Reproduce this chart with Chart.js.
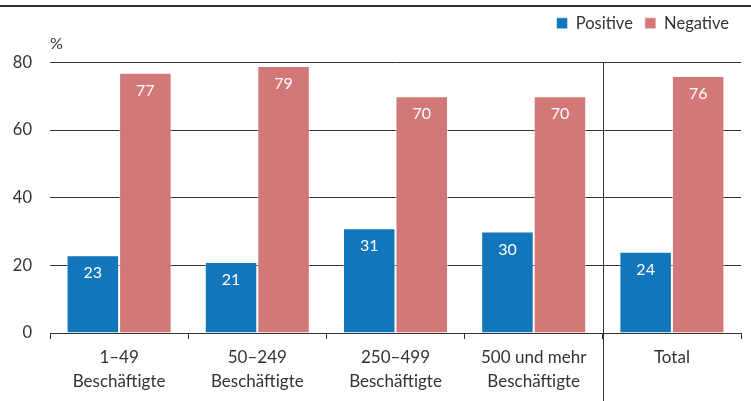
<!DOCTYPE html>
<html>
<head>
    <title>Positive / Negative nach Betriebsgrösse</title>
    <script src="https://cdn.jsdelivr.net/npm/chart.js@4.4.1/dist/chart.umd.min.js"></script>
</head>

<style>
    body {
        margin: 0;
        background: #ffffff;
    }

    .chart-container {
        width: 751px;
        height: 401px;
        position: relative;
    }
</style>

<body>
    <div class="chart-container"><canvas id="myChart"></canvas></div>

    <script>

    const categories = [['1–49', 'Beschäftigte'], ['50–249', 'Beschäftigte'], ['250–499', 'Beschäftigte'], ['500 und mehr', 'Beschäftigte'], 'Total'];
    const positive = [23, 21, 31, 30, 24];
    const negative = [77, 79, 70, 70, 76];
    const yTicks = [0, 20, 40, 60, 80];

    const dark = '#333333';
    const fontName = 'Lato';

// ligne du haut, "%" et séparateur avant Total
    const decorations = {
        id: 'decorations',
        beforeInit(chart) {
            // un peu d'espace sous la légende
            const lg = chart.legend;
            const fitOrig = lg.fit.bind(lg);
            lg.fit = function () { fitOrig(); this.height += 21; };
        },
        afterDraw(chart) {
            const ctx = chart.ctx;
            const x = chart.scales.x;
            const y = chart.scales.y;
            ctx.save();
            ctx.strokeStyle = dark;
            ctx.lineWidth = 2;
            ctx.beginPath();
            ctx.moveTo(0, 6);
            ctx.lineTo(chart.width, 6);
            ctx.stroke();

            ctx.lineWidth = 1;
            const sepX = Math.round((x.getPixelForValue(3) + x.getPixelForValue(4)) / 2) + 0.5;
            ctx.beginPath();
            ctx.moveTo(sepX, y.getPixelForValue(80));
            ctx.lineTo(sepX, chart.height);
            ctx.stroke();

            ctx.fillStyle = dark;
            ctx.font = '16px ' + fontName;
            ctx.textAlign = 'left';
            ctx.textBaseline = 'middle';
            ctx.fillText('%', chart.chartArea.left, 44);
            ctx.restore();
        },
        afterDatasetsDraw(chart) {
            const ctx = chart.ctx;
            ctx.save();
            ctx.fillStyle = '#ffffff';
            ctx.font = '16px ' + fontName;
            ctx.textAlign = 'center';
            ctx.textBaseline = 'middle';
            chart.data.datasets.forEach((ds, i) => {
                chart.getDatasetMeta(i).data.forEach((bar, j) => {
                    ctx.fillText(ds.data[j], bar.x, bar.y + 18);
                });
            });
            ctx.restore();
        }
    };

    const ctx = document.getElementById('myChart').getContext('2d');
    const myChart = new Chart(ctx, {
        type: 'bar',
        data: {
            labels: categories,
            datasets: [{
                label: 'Positive',
                data: positive,
                backgroundColor: '#1276BC',
                borderColor: 'rgba(255, 255, 255, 0.5)',
                borderWidth: 1
            }, {
                label: 'Negative',
                data: negative,
                backgroundColor: '#D27878',
                borderColor: 'rgba(255, 255, 255, 0.5)',
                borderWidth: 1
            }]
        },
        options: {
            responsive: true,
            maintainAspectRatio: false,
            animation: false,
            datasets: {
                bar: {
                    categoryPercentage: 0.76,
                    barPercentage: 1
                }
            },
            layout: {
                padding: { top: 3, right: 10, left: 0, bottom: 0 }
            },
            plugins: {
                legend: {
                    position: 'top',
                    align: 'end',
                    labels: {
                        boxWidth: 11,
                        boxHeight: 11,
                        padding: 12,
                        color: dark,
                        font: { family: fontName, size: 16.5 }
                    }
                },
                tooltip: { enabled: false }
            },
            scales: {
                x: {
                    grid: {
                        display: true,
                        drawOnChartArea: false,
                        drawTicks: true,
                        tickLength: 6,
                        color: dark
                    },
                    border: { display: true, color: dark, width: 1 },
                    ticks: {
                        color: dark,
                        padding: 6,
                        maxRotation: 0,
                        font: { family: fontName, size: 17, lineHeight: 1.45 }
                    },
                    afterFit(scale) { scale.height = 68; }
                },
                y: {
                    min: 0,
                    max: 80,
                    afterBuildTicks(scale) { scale.ticks = yTicks.map(v => ({ value: v })); },
                    grid: {
                        color: (c) => c.tick && c.tick.value === 0 ? 'rgba(0,0,0,0)' : dark,
                        drawTicks: false
                    },
                    border: { display: false },
                    ticks: {
                        color: dark,
                        padding: 18,
                        font: { family: fontName, size: 16.5 }
                    },
                    afterFit(scale) { scale.width = 50; }
                }
            }
        },
        plugins: [decorations]
    });

    </script>
</body>
</html>
